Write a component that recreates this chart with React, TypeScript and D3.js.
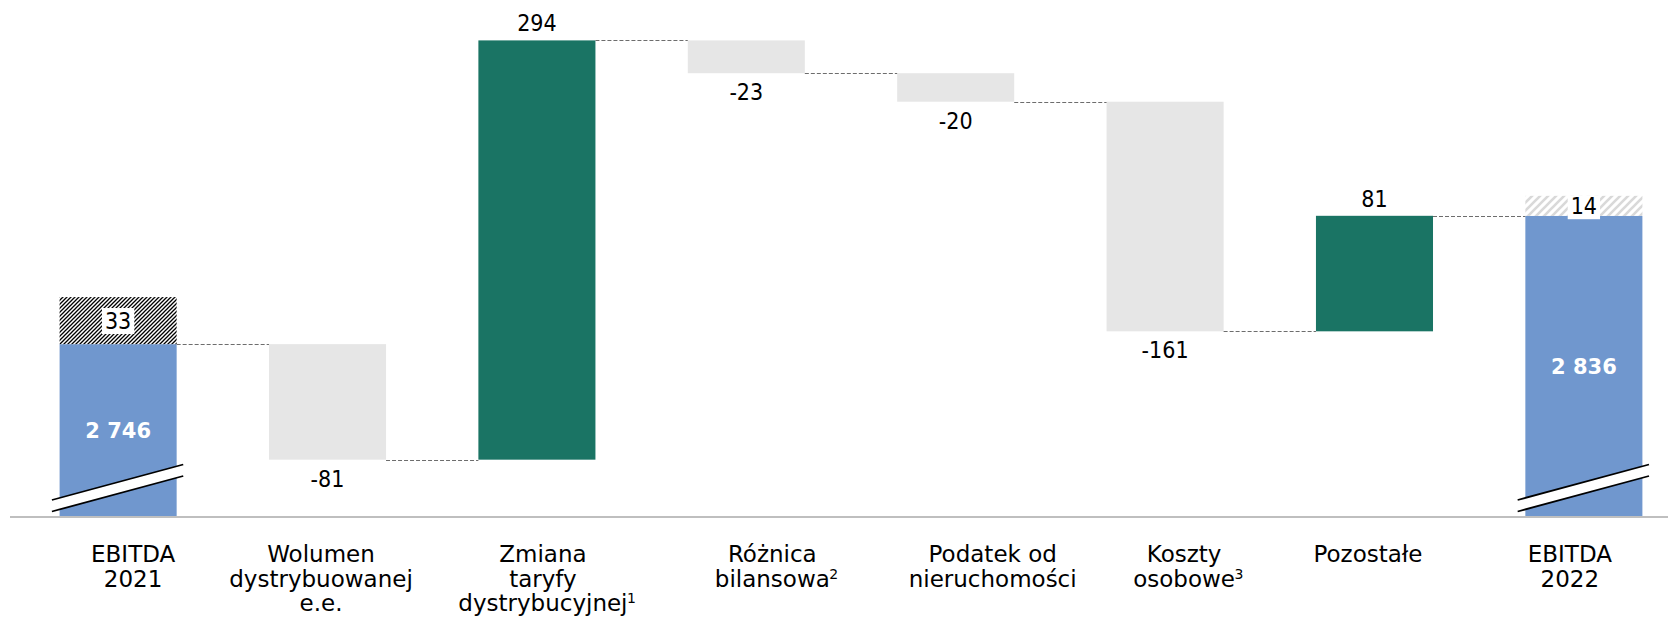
import React, { useEffect, useRef } from "react";
import * as d3 from "d3";

// ---------- data ----------
const categories: string[][] = [
  ["EBITDA", "2021"],
  ["Wolumen", "dystrybuowanej", "e.e."],
  ["Zmiana", "taryfy", "dystrybucyjnej"],
  ["Różnica", "bilansowa"],
  ["Podatek od", "nieruchomości"],
  ["Koszty", "osobowe"],
  ["Pozostałe"],
  ["EBITDA", "2022"],
];
const footnotes = ["", "", "1", "2", "", "3", "", ""];
const steps = [2746, -81, 294, -23, -20, -161, 81, 2836];
const stepKinds = ["total", "delta", "delta", "delta", "delta", "delta", "delta", "total"];
const hatchValues = [33, 0, 0, 0, 0, 0, 0, 14];
const hatchStyles = ["dark", "", "", "", "", "", "", "light"];
const axisMin = 2625.5;
const axisMax = 2959;

// ---------- layout ----------
const W = 1668;
const H = 617;
const labelShift = [15, -6.5, 6, 26, 37, 19, -6.5, -14];
const COLORS = { total: "#7097ce", up: "#1a7464", down: "#e6e6e6" };
const catFont = "'DejaVu Sans', Verdana, sans-serif";
const numFont = "'DejaVu Sans Condensed', 'Liberation Sans', Arial, sans-serif";

export default function App() {
  const ref = useRef<SVGSVGElement>(null);

  useEffect(() => {
    const svg = d3.select(ref.current);
    svg.selectAll("*").remove();

    const x = d3
      .scaleBand<string>()
      .domain(d3.range(categories.length).map(String))
      .range([59.6, 1642.4])
      .paddingInner(0.441)
      .paddingOuter(0);
    const y = d3.scaleLinear().domain([axisMin, axisMax]).range([516, 40.4]);
    const fmt = d3.formatLocale({ decimal: ",", thousands: " ", grouping: [3], currency: ["", ""] }).format(",d");

    const defs = svg.append("defs");
    const pd = defs
      .append("pattern")
      .attr("id", "hatchDark")
      .attr("patternUnits", "userSpaceOnUse")
      .attr("width", 4)
      .attr("height", 4);
    pd.append("rect").attr("width", 4).attr("height", 4).attr("fill", "#fff");
    pd.append("path")
      .attr("d", "M-1,1 l2,-2 M0,4 l4,-4 M3,5 l2,-2")
      .attr("stroke", "#000")
      .attr("stroke-width", 1.3);
    const pl = defs
      .append("pattern")
      .attr("id", "hatchLight")
      .attr("patternUnits", "userSpaceOnUse")
      .attr("width", 8)
      .attr("height", 8);
    pl.append("rect").attr("width", 8).attr("height", 8).attr("fill", "#fff");
    pl.append("path")
      .attr("d", "M-2,2 l4,-4 M0,8 l8,-8 M6,10 l4,-4")
      .attr("stroke", "#d9d9d9")
      .attr("stroke-width", 2.6);

    // compute bars
    let run = 0;
    const bars = steps.map((v, i) => {
      if (stepKinds[i] === "total") {
        run = v;
        return { i, lo: axisMin, hi: v, v, end: v, kind: "total" };
      }
      const start = run;
      run += v;
      return { i, lo: Math.min(start, run), hi: Math.max(start, run), v, end: run, kind: v >= 0 ? "up" : "down" };
    });

    const bw = x.bandwidth();
    const gBars = svg.append("g");
    bars.forEach((b) => {
      const x0 = x(String(b.i))!;
      gBars
        .append("rect")
        .attr("x", x0)
        .attr("y", y(b.hi))
        .attr("width", bw)
        .attr("height", y(b.lo) - y(b.hi))
        .attr("fill", (COLORS as any)[b.kind]);
      if (hatchValues[b.i] > 0) {
        gBars
          .append("rect")
          .attr("x", x0)
          .attr("y", y(b.hi + hatchValues[b.i]))
          .attr("width", bw)
          .attr("height", y(b.hi) - y(b.hi + hatchValues[b.i]))
          .attr("fill", hatchStyles[b.i] === "dark" ? "url(#hatchDark)" : "url(#hatchLight)");
      }
    });

    // connectors
    const gConn = svg.append("g");
    for (let i = 0; i < bars.length - 1; i++) {
      const yy = Math.round(y(bars[i].end)) + 0.5;
      gConn
        .append("line")
        .attr("x1", x(String(i))! + bw)
        .attr("x2", x(String(i + 1))!)
        .attr("y1", yy)
        .attr("y2", yy)
        .attr("stroke", "#6d6d6d")
        .attr("stroke-width", 1)
        .attr("stroke-dasharray", "4,2");
    }

    // axis line
    svg
      .append("line")
      .attr("x1", 10)
      .attr("x2", W)
      .attr("y1", 517)
      .attr("y2", 517)
      .attr("stroke", "#bfbfbf")
      .attr("stroke-width", 2);

    // break marks
    bars
      .filter((b) => b.kind === "total")
      .forEach((b) => {
        const xl = x(String(b.i))! - 7.7;
        const xr = x(String(b.i))! + bw + 6.6;
        const yl = 500;
        const yr = 464.5;
        const gap = 11.5;
        svg
          .append("polygon")
          .attr("points", `${xl},${yl} ${xr},${yr} ${xr},${yr + gap} ${xl},${yl + gap}`)
          .attr("fill", "#fff");
        [0, gap].forEach((o) =>
          svg
            .append("line")
            .attr("x1", xl)
            .attr("y1", yl + o)
            .attr("x2", xr)
            .attr("y2", yr + o)
            .attr("stroke", "#000")
            .attr("stroke-width", 1.8)
        );
      });

    // value labels
    const gVal = svg.append("g");
    bars.forEach((b) => {
      const cx = x(String(b.i))! + bw / 2;
      if (b.kind === "total") {
        const mid = (y(b.hi) + 516) / 2;
        gVal
          .append("text")
          .attr("x", cx)
          .attr("y", mid + 7.6)
          .attr("text-anchor", "middle")
          .attr("font-family", catFont)
          .attr("font-weight", "bold")
          .attr("font-size", 21)
          .attr("fill", "#fff")
          .text(fmt(b.v));
        const hv = hatchValues[b.i];
        if (hv > 0) {
          const hc = (y(b.hi) + y(b.hi + hv)) / 2;
          const t = gVal
            .append("text")
            .attr("x", cx)
            .attr("y", hc + 8.4)
            .attr("text-anchor", "middle")
            .attr("font-family", numFont)
            .attr("font-size", 23)
            .attr("fill", "#000")
            .text(fmt(hv));
          const bb = (t.node() as SVGTextElement).getBBox();
          gVal
            .insert("rect", "text:last-child")
            .attr("x", bb.x - 3)
            .attr("y", Math.max(bb.y, y(b.hi + hv)))
            .attr("width", bb.width + 6)
            .attr("height", bb.y + bb.height - Math.max(bb.y, y(b.hi + hv)))
            .attr("fill", "#fff");
        }
      } else {
        const yy = b.v >= 0 ? y(b.hi) - 9 : y(b.lo) + 27;
        gVal
          .append("text")
          .attr("x", cx)
          .attr("y", yy)
          .attr("text-anchor", "middle")
          .attr("font-family", numFont)
          .attr("font-size", 23)
          .attr("fill", "#000")
          .text(fmt(b.v).replace("−", "-"));
      }
    });

    // category labels
    const gCat = svg.append("g");
    categories.forEach((lines, i) => {
      const cx = x(String(i))! + bw / 2 + labelShift[i];
      lines.forEach((ln, k) => {
        const base = 562 + k * 24.5;
        const t = gCat
          .append("text")
          .attr("x", cx)
          .attr("y", base)
          .attr("text-anchor", "middle")
          .attr("font-family", catFont)
          .attr("font-size", 23)
          .attr("fill", "#000")
          .text(ln);
        if (k === lines.length - 1 && footnotes[i]) {
          const w = (t.node() as SVGTextElement).getComputedTextLength();
          gCat
            .append("text")
            .attr("x", cx + w / 2 - 0.5)
            .attr("y", base - 8)
            .attr("font-family", catFont)
            .attr("font-size", 14)
            .attr("fill", "#000")
            .text(footnotes[i]);
        }
      });
    });
  }, []);

  return (
    <svg
      ref={ref}
      width={W}
      height={H}
      style={{ position: "absolute", left: 0, top: 0, background: "#fff" }}
    />
  );
}
